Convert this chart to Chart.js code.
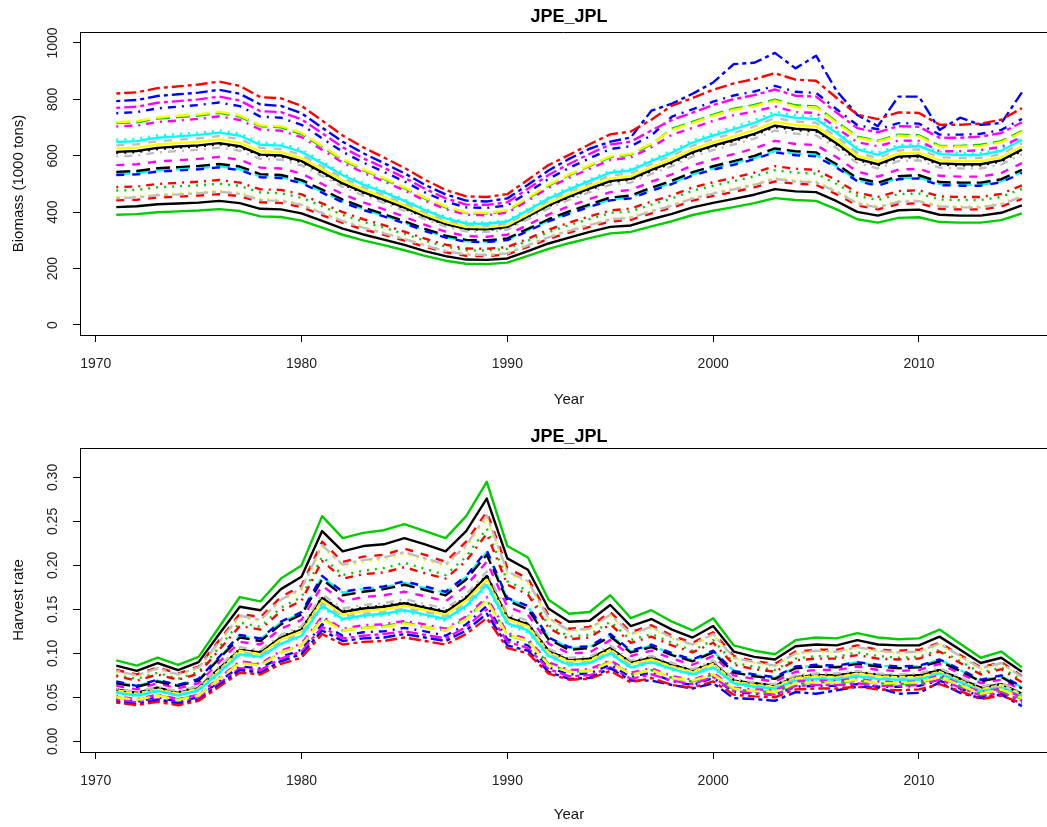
<!DOCTYPE html>
<html><head><meta charset="utf-8">
<script src="https://cdn.jsdelivr.net/npm/chart.js@4.4.1/dist/chart.umd.min.js"></script>
<style>
html,body{margin:0;padding:0;background:#fff;overflow:hidden;width:1047px;height:827px}
canvas{position:absolute;left:0;display:block}
</style></head><body>
<canvas id="c1" width="1047" height="415" style="top:0"></canvas>
<canvas id="c2" width="1047" height="412" style="top:415px"></canvas>
<script>
// ---------- data ----------
const years = [1971,1972,1973,1974,1975,1976,1977,1978,1979,1980,1981,1982,1983,1984,1985,1986,1987,1988,1989,1990,1991,1992,1993,1994,1995,1996,1997,1998,1999,2000,2001,2002,2003,2004,2005,2006,2007,2008,2009,2010,2011,2012,2013,2014,2015];
const xTickValues = [1970,1980,1990,2000,2010];
const xTickLabels = ['1970','1980','1990','2000','2010'];
const bioTickValues = [0,200,400,600,800,1000];
const bioTickLabels = ['0','200','400','600','800','1000'];
const hrTickValues = [0,0.05,0.10,0.15,0.20,0.25,0.30];
const hrTickLabels = ['0.00','0.05','0.10','0.15','0.20','0.25','0.30'];

// Biomass (1000 tons), one array per run
const bioK0  = [614,617,628,633,637,645,634,604,601,581,542,502,471,444,416,385,358,341,339,347,385,424,455,484,510,518,550,578,612,636,656,678,707,696,691,644,589,570,597,600,573,570,570,584,622];
const bioK1  = [442,444,452,455,459,464,457,435,433,418,390,362,339,320,299,277,258,245,244,250,277,305,328,348,367,373,396,416,441,458,472,488,509,501,497,463,424,410,429,432,412,410,410,420,447];
const bioK2  = [477,479,488,492,495,501,493,470,467,451,421,390,366,345,323,299,278,265,264,270,299,329,354,376,397,403,427,449,476,494,510,527,549,540,537,500,458,443,464,466,445,443,443,454,483];
const bioK3  = [751,755,768,774,780,789,776,739,735,710,662,614,576,543,509,470,438,417,415,424,470,518,557,591,624,634,672,739,765,792,814,828,848,827,823,765,709,694,716,714,675,675,678,692,731];
const bioK4  = [536,538,548,552,556,563,553,527,525,507,473,438,411,388,363,336,312,297,296,303,336,370,397,422,445,452,480,504,534,555,573,592,617,607,603,562,514,497,521,523,500,497,497,510,543];
const bioK5  = [770,774,788,794,800,810,796,758,755,729,680,630,591,558,522,483,449,427,426,435,483,532,571,607,640,650,690,727,753,780,801,815,835,813,810,753,698,683,705,703,664,664,668,681,719];
const bioK6  = [626,629,640,645,650,658,646,616,613,592,552,512,480,453,424,392,365,347,346,354,392,432,464,493,520,528,560,589,624,648,669,691,720,709,704,656,600,581,608,611,584,581,581,595,634];
const bioK7  = [637,641,652,657,662,670,659,628,624,603,562,522,489,461,432,399,372,354,352,360,399,440,473,502,530,538,571,600,636,660,681,704,734,722,717,668,611,592,619,623,595,592,592,606,645];
const bioK8  = [610,613,624,629,633,641,630,601,597,577,538,499,468,441,413,382,356,339,337,345,382,421,452,480,507,515,546,574,608,632,652,674,702,691,686,640,585,566,593,596,569,566,566,580,618];
const bioK9  = [489,491,500,504,508,514,505,481,479,463,431,400,375,354,331,306,285,271,270,276,306,338,363,385,406,413,438,460,488,506,523,540,563,554,550,513,469,454,475,478,456,454,454,465,495];
const bioK10 = [716,719,732,737,743,752,739,705,701,677,631,586,549,518,485,448,417,397,395,404,448,494,531,564,595,604,641,696,720,746,767,780,799,779,775,720,668,653,675,673,635,635,639,652,688];
const bioK11 = [794,798,812,818,824,834,820,782,777,751,700,650,609,574,538,497,463,441,438,449,497,548,589,625,650,665,760,785,820,860,925,930,965,910,955,830,745,705,810,810,692,735,710,716,825];
const bioK12 = [649,652,664,669,674,682,671,639,636,614,573,531,498,470,440,407,378,360,359,367,407,448,481,511,540,548,581,611,647,672,694,717,747,735,730,681,623,603,631,634,606,603,603,618,657];
const bioK13 = [567,570,580,584,589,596,586,558,555,537,500,464,435,410,384,355,331,315,313,320,355,392,421,447,471,479,508,534,566,587,606,626,653,642,638,595,544,526,551,554,529,526,526,539,574];
const bioK14 = [454,456,464,467,471,477,469,447,444,429,400,371,348,328,307,284,264,252,251,256,284,313,336,357,377,383,406,427,452,470,485,501,522,514,510,476,435,421,441,443,423,421,421,432,459];
const bioK15 = [598,601,612,617,621,629,618,589,586,566,528,490,459,433,405,375,349,332,330,338,375,413,444,471,497,505,536,563,597,620,640,661,689,678,673,627,574,555,581,584,558,555,555,569,606];
const bioK16 = [543,546,556,560,564,571,562,535,532,514,480,445,417,393,368,341,317,302,300,307,341,375,403,428,452,459,487,512,542,563,581,600,626,616,612,570,521,505,528,531,507,505,505,517,550];
const bioK17 = [821,825,840,846,853,863,848,808,804,777,725,672,630,594,557,515,479,456,454,464,515,567,603,641,676,686,728,778,805,834,857,872,893,870,866,805,746,730,754,752,710,710,714,728,769];
const bioK18 = [391,393,400,403,406,411,404,385,383,370,345,320,300,283,265,245,228,217,216,221,245,270,290,308,325,330,350,368,390,405,418,432,450,443,440,410,375,363,380,382,365,363,363,372,396];
const bioK19 = [532,534,544,548,552,559,549,524,521,503,469,435,408,385,360,333,310,295,294,301,333,367,394,419,442,449,476,500,530,551,568,588,612,602,598,558,510,494,517,520,496,494,494,506,539];
const bioK20 = [657,660,672,677,682,690,679,647,643,622,580,538,504,475,445,412,383,365,363,371,412,454,487,517,546,554,588,618,655,680,702,726,756,744,739,689,630,610,638,642,613,610,610,625,665];
const bioK21 = [704,707,720,725,731,740,727,693,689,666,621,576,540,509,477,441,410,391,389,398,441,486,522,554,585,594,630,675,699,724,744,757,775,755,752,699,648,634,654,653,616,616,620,632,667];
const bioK22 = [719,723,736,742,747,756,743,708,705,681,635,589,552,521,488,451,420,399,397,407,451,497,534,567,598,607,644,692,716,742,763,776,795,774,771,716,664,650,671,669,632,632,635,648,684];
const bioK23 = [450,452,460,463,467,473,465,443,440,426,397,368,345,325,305,282,262,250,248,254,282,311,334,354,374,380,403,423,449,466,481,497,518,509,506,472,431,417,437,439,420,417,417,428,455];
const bioK24 = [418,421,428,431,434,440,432,412,410,396,369,342,321,303,284,262,244,232,231,236,262,289,310,330,348,353,375,394,417,433,447,462,482,474,471,439,401,388,407,409,391,388,388,398,424];

// Harvest rate, one array per run
const hrK0  = [.059,.055,.061,.055,.061,.083,.104,.101,.118,.127,.163,.147,.151,.153,.157,.152,.147,.163,.188,.141,.133,.103,.092,.094,.106,.089,.095,.087,.080,.089,.069,.066,.063,.073,.075,.075,.078,.075,.074,.075,.081,.071,.061,.065,.054];
const hrK1  = [.081,.076,.084,.077,.085,.115,.145,.141,.164,.177,.227,.204,.210,.212,.219,.212,.204,.227,.261,.197,.185,.143,.128,.130,.147,.124,.132,.120,.112,.124,.097,.091,.088,.102,.104,.104,.109,.104,.103,.104,.112,.098,.084,.090,.074];
const hrK2  = [.075,.071,.078,.071,.079,.107,.135,.130,.152,.164,.210,.189,.194,.197,.203,.196,.189,.210,.242,.182,.171,.132,.119,.121,.136,.115,.122,.112,.103,.115,.089,.085,.081,.094,.097,.096,.101,.097,.095,.096,.104,.091,.078,.084,.069];
const hrK3  = [.048,.045,.050,.045,.050,.068,.085,.083,.096,.104,.133,.120,.124,.125,.129,.125,.120,.133,.154,.116,.109,.084,.076,.077,.087,.073,.078,.068,.064,.072,.056,.054,.053,.062,.063,.063,.065,.062,.062,.063,.069,.060,.051,.055,.046];
const hrK4  = [.067,.063,.069,.064,.070,.095,.120,.116,.135,.146,.187,.169,.173,.175,.180,.174,.169,.187,.215,.162,.153,.118,.106,.107,.121,.102,.109,.099,.092,.102,.080,.075,.072,.084,.086,.085,.090,.086,.085,.085,.093,.081,.069,.074,.061];
const hrK5  = [.047,.044,.048,.044,.049,.066,.083,.081,.094,.102,.130,.117,.120,.122,.125,.121,.117,.130,.150,.113,.106,.082,.074,.075,.084,.071,.076,.069,.065,.073,.057,.055,.053,.063,.064,.064,.066,.063,.063,.064,.070,.061,.052,.056,.046];
const hrK6  = [.058,.054,.059,.054,.060,.081,.103,.099,.116,.125,.160,.144,.148,.150,.154,.149,.144,.160,.184,.139,.131,.101,.091,.092,.104,.088,.093,.085,.079,.088,.068,.064,.062,.072,.074,.073,.077,.074,.073,.073,.079,.069,.059,.064,.053];
const hrK7  = [.056,.053,.058,.053,.059,.080,.101,.098,.113,.123,.157,.142,.145,.147,.151,.147,.142,.157,.181,.136,.128,.099,.089,.090,.102,.086,.091,.083,.077,.086,.067,.063,.061,.071,.072,.072,.075,.072,.071,.072,.078,.068,.058,.063,.052];
const hrK8  = [.059,.055,.061,.056,.062,.083,.105,.102,.119,.128,.164,.148,.152,.154,.158,.153,.148,.164,.189,.142,.134,.103,.093,.094,.106,.090,.096,.087,.081,.090,.070,.066,.064,.074,.076,.075,.079,.076,.074,.075,.081,.071,.061,.065,.054];
const hrK9  = [.074,.069,.076,.070,.077,.104,.131,.127,.148,.160,.205,.185,.190,.192,.198,.191,.185,.205,.236,.178,.167,.129,.116,.118,.133,.112,.119,.109,.101,.112,.087,.082,.079,.092,.094,.094,.098,.094,.093,.094,.102,.089,.076,.082,.067];
const hrK10 = [.050,.047,.052,.048,.052,.071,.090,.087,.101,.109,.140,.126,.129,.131,.135,.130,.126,.140,.161,.121,.114,.088,.079,.080,.091,.076,.081,.072,.068,.076,.059,.057,.056,.065,.067,.067,.069,.066,.065,.066,.073,.063,.054,.058,.048];
const hrK11 = [.045,.042,.047,.043,.047,.064,.081,.078,.091,.099,.126,.114,.117,.118,.122,.118,.114,.126,.145,.109,.103,.079,.071,.072,.083,.069,.069,.064,.060,.066,.049,.048,.046,.056,.054,.058,.062,.061,.054,.055,.067,.055,.049,.053,.040];
const hrK12 = [.055,.052,.057,.052,.058,.078,.099,.096,.111,.120,.154,.139,.143,.145,.149,.144,.139,.154,.178,.134,.126,.097,.087,.089,.100,.084,.090,.082,.076,.084,.066,.062,.060,.069,.071,.070,.074,.071,.070,.070,.077,.067,.057,.061,.051];
const hrK13 = [.063,.059,.066,.060,.066,.090,.113,.110,.128,.138,.177,.159,.164,.166,.170,.165,.159,.177,.204,.153,.144,.111,.100,.101,.115,.097,.103,.094,.087,.097,.075,.071,.068,.079,.081,.081,.085,.081,.080,.081,.088,.077,.066,.070,.058];
const hrK14 = [.079,.074,.082,.075,.083,.112,.141,.137,.160,.172,.221,.199,.204,.207,.213,.206,.199,.221,.254,.191,.180,.139,.125,.127,.143,.121,.128,.117,.109,.121,.094,.089,.085,.099,.102,.101,.106,.102,.100,.101,.110,.096,.082,.088,.072];
const hrK15 = [.060,.056,.062,.057,.063,.085,.107,.104,.121,.131,.167,.151,.155,.157,.162,.156,.151,.167,.193,.145,.137,.105,.095,.096,.109,.092,.097,.089,.082,.092,.071,.067,.065,.075,.077,.077,.080,.077,.076,.077,.083,.073,.062,.067,.055];
const hrK16 = [.066,.062,.068,.063,.069,.094,.118,.114,.133,.144,.184,.166,.170,.173,.178,.172,.166,.184,.212,.160,.150,.116,.104,.106,.119,.101,.107,.098,.091,.101,.078,.074,.071,.083,.085,.084,.088,.085,.083,.084,.091,.080,.068,.073,.060];
const hrK17 = [.044,.041,.045,.041,.046,.062,.078,.076,.088,.095,.122,.110,.113,.114,.118,.114,.110,.122,.140,.106,.100,.077,.070,.071,.080,.067,.072,.064,.061,.068,.053,.051,.050,.059,.060,.060,.062,.059,.058,.059,.065,.057,.048,.052,.043];
const hrK18 = [.092,.086,.095,.087,.096,.130,.164,.159,.185,.200,.256,.231,.237,.240,.247,.239,.231,.256,.295,.222,.209,.161,.145,.147,.166,.140,.149,.136,.126,.140,.109,.103,.099,.115,.118,.117,.123,.118,.116,.117,.127,.111,.095,.102,.084];
const hrK19 = [.068,.063,.070,.064,.071,.096,.121,.117,.136,.147,.188,.170,.174,.176,.182,.176,.170,.188,.217,.163,.154,.118,.107,.108,.122,.103,.110,.100,.093,.103,.080,.076,.073,.085,.087,.086,.090,.087,.085,.086,.093,.082,.070,.075,.062];
const hrK20 = [.055,.051,.057,.052,.057,.077,.098,.095,.110,.119,.152,.137,.141,.143,.147,.142,.137,.152,.176,.132,.124,.096,.086,.088,.099,.083,.089,.081,.075,.083,.065,.061,.059,.068,.070,.070,.073,.070,.069,.070,.076,.066,.057,.061,.050];
const hrK21 = [.051,.048,.053,.048,.053,.072,.091,.088,.103,.111,.142,.128,.132,.133,.137,.133,.128,.142,.164,.123,.116,.090,.081,.082,.092,.078,.083,.074,.070,.078,.061,.059,.058,.068,.069,.069,.071,.068,.067,.068,.075,.065,.056,.060,.050];
const hrK22 = [.050,.047,.052,.047,.052,.071,.089,.086,.101,.109,.139,.126,.129,.130,.134,.130,.126,.139,.160,.121,.114,.087,.079,.080,.090,.076,.081,.072,.069,.076,.060,.057,.056,.066,.067,.067,.070,.066,.066,.067,.073,.064,.054,.059,.049];
const hrK23 = [.080,.075,.083,.076,.084,.113,.143,.138,.161,.174,.223,.201,.206,.209,.215,.208,.201,.223,.257,.193,.182,.140,.126,.128,.144,.122,.130,.118,.110,.122,.095,.090,.086,.100,.103,.102,.107,.103,.101,.102,.111,.097,.083,.089,.073];
const hrK24 = [.086,.080,.089,.081,.090,.122,.153,.149,.173,.187,.239,.216,.222,.224,.231,.224,.216,.239,.276,.208,.195,.151,.136,.137,.155,.131,.139,.127,.118,.131,.102,.096,.093,.108,.110,.109,.115,.110,.109,.109,.119,.104,.089,.095,.079];

const bioRuns = [bioK0,bioK1,bioK2,bioK3,bioK4,bioK5,bioK6,bioK7,bioK8,bioK9,bioK10,bioK11,bioK12,bioK13,bioK14,bioK15,bioK16,bioK17,bioK18,bioK19,bioK20,bioK21,bioK22,bioK23,bioK24];
const hrRuns  = [hrK0,hrK1,hrK2,hrK3,hrK4,hrK5,hrK6,hrK7,hrK8,hrK9,hrK10,hrK11,hrK12,hrK13,hrK14,hrK15,hrK16,hrK17,hrK18,hrK19,hrK20,hrK21,hrK22,hrK23,hrK24];

// ---------- styles ----------
const COLORS = ['#000000','#FF0000','#00CD00','#0000FF','#00FFFF','#FF00FF','#FFFF00','#BEBEBE'];
const DASHES = [[],[8,8],[2,6],[2,6,8,6],[14,6],[4,4,12,4]];
const FONT = '"Liberation Sans", Arial, Helvetica, sans-serif';
Chart.defaults.font.family = FONT;

const framePlugin = {
  id: 'frame',
  afterDraw(chart, args, o) {
    const ctx = chart.ctx, a = chart.chartArea, ys = chart.scales.y;
    ctx.save();
    ctx.strokeStyle = '#000'; ctx.lineWidth = 1;
    ctx.beginPath(); ctx.moveTo(a.left, a.top + 0.5); ctx.lineTo(a.right, a.top + 0.5); ctx.stroke();
    ctx.fillStyle = '#222'; ctx.font = '14px ' + FONT; ctx.textAlign = 'center'; ctx.textBaseline = 'middle';
    o.yVals.forEach((v, i) => {
      const py = ys.getPixelForValue(v);
      ctx.save(); ctx.translate(o.yLabX, py); ctx.rotate(-Math.PI / 2); ctx.fillText(o.yLabs[i], 0, 0); ctx.restore();
    });
    ctx.font = '15px ' + FONT; ctx.fillStyle = '#111';
    ctx.save(); ctx.translate(o.yTitleX, (a.top + a.bottom) / 2); ctx.rotate(-Math.PI / 2); ctx.fillText(o.yTitle, 0, 0); ctx.restore();
    ctx.fillText(o.xTitle, o.cx, o.xTitleY);
    ctx.font = 'bold 18px ' + FONT; ctx.fillStyle = '#000';
    ctx.fillText(o.title, o.cx, o.titleY);
    ctx.restore();
  }
};

function makeChart(id, runs, cfg) {
  const datasets = [];
  for (let k = runs.length - 1; k >= 0; k--) {
    datasets.push({
      data: years.map((yr, i) => ({ x: yr, y: runs[k][i] })),
      borderColor: COLORS[k % 8],
      borderDash: DASHES[k % 6],
      borderWidth: 2.4,
      borderCapStyle: 'butt',
      borderJoinStyle: 'round',
      pointRadius: 0,
      fill: false,
      tension: 0
    });
  }
  return new Chart(document.getElementById(id), {
    type: 'line',
    data: { datasets },
    options: {
      responsive: false, animation: false, events: [],
      layout: { padding: { top: cfg.padTop, left: 0, right: 0, bottom: 0 } },
      plugins: {
        legend: { display: false }, tooltip: { enabled: false },
        frame: { yVals: cfg.yVals, yLabs: cfg.yLabs, yLabX: 53, yTitle: cfg.yTitle, yTitleX: 19,
                 xTitle: 'Year', xTitleY: cfg.xTitleY, cx: 569, title: 'JPE_JPL', titleY: cfg.titleY }
      },
      scales: {
        x: {
          type: 'linear', min: 1969.237, max: 2016.22,
          afterBuildTicks: s => { s.ticks = xTickValues.map(v => ({ value: v })); },
          afterFit: s => { s.height = cfg.xH; },
          grid: { drawOnChartArea: false, drawTicks: true, tickLength: 7, color: '#000', lineWidth: 1 },
          border: { display: true, color: '#000', width: 1 },
          ticks: { color: '#222', font: { size: 14, family: FONT }, padding: 14, maxRotation: 0, autoSkip: false,
                   callback: v => xTickLabels[xTickValues.indexOf(v)] }
        },
        y: {
          type: 'linear', min: cfg.yMin, max: cfg.yMax,
          afterBuildTicks: s => { s.ticks = cfg.yVals.map(v => ({ value: v })); },
          afterFit: s => { s.width = 80; },
          grid: { drawOnChartArea: false, drawTicks: true, tickLength: 7, color: '#000', lineWidth: 1 },
          border: { display: true, color: '#000', width: 1 },
          ticks: { color: 'rgba(0,0,0,0)', font: { size: 14 }, padding: 4, autoSkip: false, callback: v => '' + v }
        }
      }
    },
    plugins: [framePlugin]
  });
}

makeChart('c1', bioRuns, { padTop: 32, xH: 80, yMin: -35.5, yMax: 1039,
  yVals: bioTickValues, yLabs: bioTickLabels, yTitle: 'Biomass (1000 tons)', xTitleY: 400, titleY: 17 });
makeChart('c2', hrRuns, { padTop: 33, xH: 75, yMin: -0.0122, yMax: 0.3335,
  yVals: hrTickValues, yLabs: hrTickLabels, yTitle: 'Harvest rate', xTitleY: 400, titleY: 22 });
</script>
</body></html>
